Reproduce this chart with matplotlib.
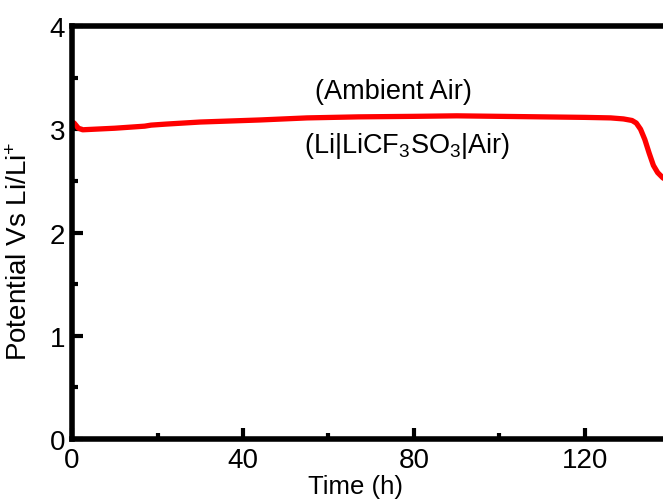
import matplotlib
matplotlib.use("Agg")
import matplotlib.pyplot as plt
from matplotlib.ticker import MultipleLocator

plt.rcParams["font.family"] = ["Liberation Sans", "DejaVu Sans"]
plt.rcParams["mathtext.fontset"] = "custom"
plt.rcParams["mathtext.rm"] = "Liberation Sans"
plt.rcParams["mathtext.it"] = "Liberation Sans:italic"

# Discharge curve
time_h = [0, 0.5, 1.5, 2.5, 5, 10, 17, 18.5, 22, 30, 44, 55, 67, 80, 90,
          100, 110, 120, 126, 129, 131, 132, 133, 134, 135, 136, 137, 138.2, 139]
potential = [3.07, 3.06, 3.01, 2.995, 3.0, 3.01, 3.03, 3.04, 3.05, 3.07, 3.09,
             3.11, 3.12, 3.125, 3.13, 3.125, 3.12, 3.115, 3.11, 3.1, 3.085,
             3.06, 3.0, 2.9, 2.77, 2.65, 2.58, 2.53, 2.51]

fig = plt.figure(figsize=(6.63, 5.02), dpi=100)
# axes run past the right edge, so the right spine is cut off like in the original
ax = fig.add_axes([0.1086, 0.1235, 0.9027, 0.8227])

ax.plot(time_h, potential, color="red", lw=3.8)

ax.set_xlim(0, 140)
ax.set_ylim(0, 4)
ax.xaxis.set_major_locator(MultipleLocator(40))
ax.xaxis.set_minor_locator(MultipleLocator(20))
ax.yaxis.set_major_locator(MultipleLocator(1))
ax.yaxis.set_minor_locator(MultipleLocator(0.5))
ax.tick_params(which="both", direction="in", width=3, labelsize=20)
ax.tick_params(which="major", length=8)
ax.tick_params(which="minor", length=4)
ax.tick_params(axis="x", pad=6)
ax.tick_params(axis="y", pad=5)
for s in ax.spines.values():
    s.set_linewidth(4)

fig.text(356 / 663, 1 - 487 / 502, "Time (h)", fontsize=18.5,
         ha="center", va="center")
fig.text(20 / 663, 1 - 251 / 502, "Potential Vs Li/Li$^{+}$", fontsize=20,
         rotation=90, ha="center", va="center")

ax.text(75.1, 3.37, "(Ambient Air)", fontsize=19.5, ha="center", va="center")
ax.text(78.4, 2.85, "(Li|LiCF$_3$SO$_3$|Air)", fontsize=19.5,
        ha="center", va="center")

fig.savefig("out.png", dpi=100)
